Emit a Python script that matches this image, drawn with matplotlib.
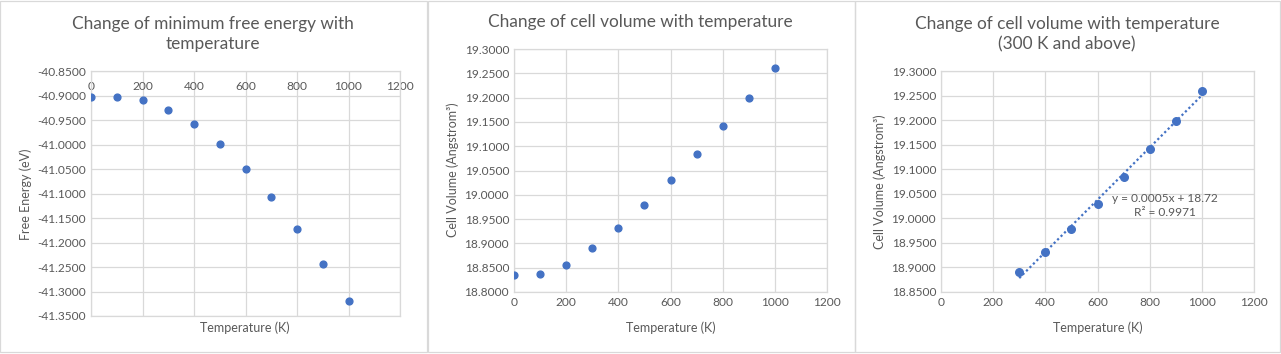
import numpy as np
import matplotlib.pyplot as plt
from matplotlib.patches import Rectangle
from matplotlib.ticker import FormatStrFormatter

# Datos
temp = [0, 100, 200, 300, 400, 500, 600, 700, 800, 900, 1000]
free_energy = [-40.9037, -40.9037, -40.9099, -40.9303, -40.9588, -40.9997,
               -41.0507, -41.1078, -41.1731, -41.2446, -41.3201]
cell_volume = [18.8343, 18.8364, 18.8549, 18.8899, 18.9322, 18.9790,
               19.0302, 19.0834, 19.1408, 19.1991, 19.2602]
temp_hi = temp[3:]
volume_hi = cell_volume[3:]

BLUE = "#4472C4"
GRID = "#d9d9d9"
TXT = "#595959"
plt.rcParams['font.family'] = ['Lato', 'DejaVu Sans']

fig = plt.figure(figsize=(12.81, 3.54), dpi=100)
W, H = 1281, 354


def px(l, r, t, b):
    return [l / W, (H - b) / H, (r - l) / W, (b - t) / H]


def style(ax, xmax=1200):
    ax.set_xlim(0, xmax)
    ax.set_xticks(np.arange(0, xmax + 1, 200))
    ax.grid(True, color=GRID, lw=0.9)
    ax.set_axisbelow(True)
    for s in ax.spines.values():
        s.set_color(GRID)
        s.set_linewidth(0.9)
    ax.tick_params(length=0, colors=TXT, labelsize=8.6)
    ax.yaxis.set_major_formatter(FormatStrFormatter('%.4f'))


# bordes de cada panel
for x0, x1 in [(0, 427), (428, 855), (855, 1280)]:
    fig.add_artist(Rectangle((x0 / W, 2 / H), (x1 - x0) / W, (H - 3) / H,
                             transform=fig.transFigure, fill=False,
                             edgecolor=GRID, lw=0.9))

TSIZE = 12.4

# 1. Energía libre
ax1 = fig.add_axes(px(91, 400, 71, 316))
style(ax1)
ax1.set_ylim(-41.35, -40.85)
ax1.set_yticks(np.arange(-41.35, -40.849, 0.05))
ax1.xaxis.tick_top()
ax1.tick_params(axis='x', pad=-15)
ax1.scatter(temp, free_energy, s=24, color=BLUE, zorder=3)
fig.text(213 / W, 1 - 34 / H, "Change of minimum free energy with\ntemperature",
         ha='center', va='center', fontsize=TSIZE, color=TXT, linespacing=1.35)
fig.text(245 / W, 1 - 328 / H, "Temperature (K)", ha='center', va='center',
         fontsize=9, color=TXT)
fig.text(26 / W, 1 - 194 / H, "Free Energy (eV)", ha='center', va='center',
         fontsize=9, color=TXT, rotation=90)

# 2. Volumen de celda
ax2 = fig.add_axes(px(514, 827, 49, 292))
style(ax2)
ax2.set_ylim(18.8, 19.3)
ax2.set_yticks(np.arange(18.8, 19.3001, 0.05))
ax2.scatter(temp, cell_volume, s=24, color=BLUE, zorder=3)
fig.text(640 / W, 1 - 22 / H, "Change of cell volume with temperature",
         ha='center', va='center', fontsize=TSIZE, color=TXT)
fig.text(671 / W, 1 - 328 / H, "Temperature (K)", ha='center', va='center',
         fontsize=9, color=TXT)
fig.text(453 / W, 1 - 170 / H, "Cell Volume (Angstrom³)", ha='center',
         va='center', fontsize=9, color=TXT, rotation=90)

# 3. Volumen de celda (300 K y más) con línea de tendencia
ax3 = fig.add_axes(px(941, 1254, 71, 292))
style(ax3)
ax3.set_ylim(18.85, 19.3)
ax3.set_yticks(np.arange(18.85, 19.3001, 0.05))
ax3.scatter(temp_hi, volume_hi, s=30, color=BLUE, zorder=3)
coef = np.polyfit(temp_hi, volume_hi, 1)
fit = np.polyval(coef, temp_hi)
ax3.plot(temp_hi, fit, color=BLUE, ls=(0, (1, 1.2)), lw=1.6, zorder=2)
ax3.text(857, 19.041, "y = 0.0005x + 18.72", ha='center', va='center',
         fontsize=8.6, color=TXT)
ax3.text(857, 19.0116, "R² = 0.9971", ha='center', va='center',
         fontsize=8.6, color=TXT)
fig.text(1067 / W, 1 - 34 / H,
         "Change of cell volume with temperature\n(300 K and above)",
         ha='center', va='center', fontsize=TSIZE, color=TXT, linespacing=1.35)
fig.text(1098 / W, 1 - 328 / H, "Temperature (K)", ha='center', va='center',
         fontsize=9, color=TXT)
fig.text(880 / W, 1 - 182 / H, "Cell Volume (Angstrom³)", ha='center',
         va='center', fontsize=9, color=TXT, rotation=90)

fig.savefig("out.png", dpi=100, facecolor='white')
